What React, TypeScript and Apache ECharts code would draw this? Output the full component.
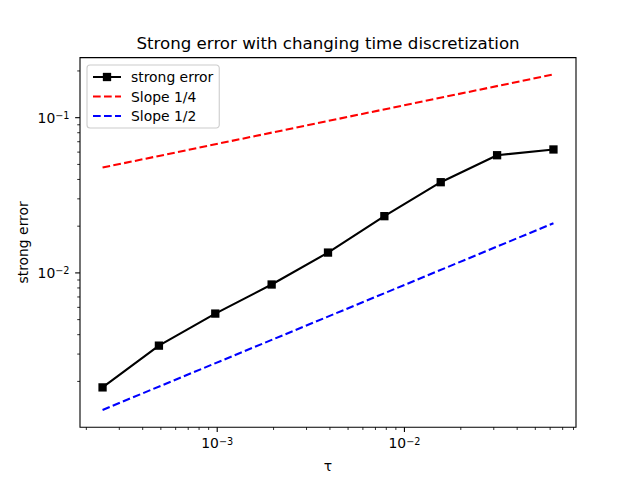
import React, { useEffect, useRef } from "react";
import * as echarts from "echarts";

// ---- data ----
const tau = [0.000244140625, 0.00048828125, 0.0009765625, 0.001953125, 0.00390625, 0.0078125, 0.015625, 0.03125, 0.0625];
const strongError = [0.00183, 0.0034, 0.00547, 0.00842, 0.01352, 0.0232, 0.0384, 0.0573, 0.0624];
const slopeQuarterEnds = [0.0477, 0.19];
const slopeHalfEnds = [0.00131, 0.0209];
const seriesNames = ["strong error", "Slope 1/4", "Slope 1/2"];
const titleText = "Strong error with changing time discretization";
const xLabel = "τ";
const yLabel = "strong error";

const xMajorTicks = [1e-3, 1e-2];
const xMinorTicks = [2e-4, 3e-4, 4e-4, 5e-4, 6e-4, 7e-4, 8e-4, 9e-4, 2e-3, 3e-3, 4e-3, 5e-3, 6e-3, 7e-3, 8e-3, 9e-3, 2e-2, 3e-2, 4e-2, 5e-2, 6e-2, 7e-2, 8e-2];
const yMajorTicks = [1e-2, 1e-1];
const yMinorTicks = [2e-3, 3e-3, 4e-3, 5e-3, 6e-3, 7e-3, 8e-3, 9e-3, 2e-2, 3e-2, 4e-2, 5e-2, 6e-2, 7e-2, 8e-2, 9e-2, 2e-1];

const X_MIN = 1.85e-4;
const X_MAX = 0.08247;
const Y_MIN = 1.014e-3;
const Y_MAX = 0.2438;

const FONT = "DejaVu Sans";
const LW = 2.08;
const DASH = [7.7, 3.3];

function supLabel(value: number) {
  const e = Math.round(Math.log10(value));
  return `{b|10}{s|${e < 0 ? "\u2212" : ""}${Math.abs(e)}}`;
}

const labelRich = {
  b: { fontFamily: FONT, fontSize: 13.9, color: "#000" },
  s: { fontFamily: FONT, fontSize: 9.7, color: "#000", verticalAlign: "top" },
};

function xTickSeries(values: number[], len: number, width: number) {
  return {
    type: "custom",
    silent: true,
    clip: false,
    z: 10,
    data: values.map((v) => [v, Y_MIN]),
    renderItem: (params: any, api: any) => {
      const cs = params.coordSys;
      const x = api.coord([api.value(0), Y_MIN])[0];
      const yb = cs.y + cs.height;
      return {
        type: "line",
        shape: { x1: x, y1: yb, x2: x, y2: yb + len },
        style: { stroke: "#000", lineWidth: width },
      };
    },
  };
}

function yTickSeries(values: number[], len: number, width: number) {
  return {
    type: "custom",
    silent: true,
    clip: false,
    z: 10,
    data: values.map((v) => [X_MIN, v]),
    renderItem: (params: any, api: any) => {
      const cs = params.coordSys;
      const y = api.coord([X_MIN, api.value(1)])[1];
      const xl = cs.x;
      return {
        type: "line",
        shape: { x1: xl - len, y1: y, x2: xl, y2: y },
        style: { stroke: "#000", lineWidth: width },
      };
    },
  };
}

export default function App() {
  const ref = useRef<HTMLDivElement>(null);
  useEffect(() => {
    if (!ref.current) return;
    const chart = echarts.init(ref.current, undefined, { renderer: "svg" });
    const option: any = {
      animation: false,
      backgroundColor: "#fff",
      textStyle: { fontFamily: FONT },
      grid: {
        left: 80,
        right: 64,
        top: 57.6,
        bottom: 52.8,
        show: true,
        borderColor: "#000",
        borderWidth: 1.1,
        backgroundColor: "transparent",
      },
      xAxis: {
        type: "log",
        logBase: 10,
        min: X_MIN,
        max: X_MAX,
        axisLine: { show: false },
        axisTick: { show: false },
        splitLine: { show: false },
        axisLabel: {
          show: true,
          margin: 9,
          showMinLabel: false,
          showMaxLabel: false,
          formatter: supLabel,
          rich: labelRich,
        },
      },
      yAxis: {
        type: "log",
        logBase: 10,
        min: Y_MIN,
        max: Y_MAX,
        axisLine: { show: false },
        axisTick: { show: false },
        splitLine: { show: false },
        axisLabel: {
          show: true,
          margin: 10.5,
          showMinLabel: false,
          showMaxLabel: false,
          formatter: supLabel,
          rich: labelRich,
        },
      },
      legend: {
        orient: "vertical",
        left: 87,
        top: 65,
        data: [
          { name: seriesNames[0] },
          { name: seriesNames[1], itemStyle: { opacity: 0 } },
          { name: seriesNames[2], itemStyle: { opacity: 0 } },
        ],
        itemWidth: 28,
        itemHeight: 10.4,
        itemGap: 5.5,
        padding: [5, 6, 5, 5],
        borderColor: "#cccccc",
        borderWidth: 1.1,
        borderRadius: 3,
        backgroundColor: "rgba(255,255,255,0.8)",
        textStyle: { fontFamily: FONT, fontSize: 13.9, color: "#000", padding: [0, 0, 0, 5] },
      },
      graphic: [
        {
          type: "text",
          x: 328,
          y: 43.7,
          style: { text: titleText, fontFamily: FONT, fontSize: 16.67, fill: "#000", align: "center", verticalAlign: "middle" },
        },
        {
          type: "text",
          x: 328,
          y: 466,
          style: { text: xLabel, fontFamily: FONT, fontSize: 13.9, fill: "#000", align: "center", verticalAlign: "middle" },
        },
        {
          type: "text",
          x: 23,
          y: 242.4,
          rotation: Math.PI / 2,
          style: { text: yLabel, fontFamily: FONT, fontSize: 13.9, fill: "#000", align: "center", verticalAlign: "middle" },
        },
      ],
      series: [
        {
          name: seriesNames[0],
          type: "line",
          data: tau.map((t, i) => [t, strongError[i]]),
          symbol: "rect",
          symbolSize: 8.3,
          lineStyle: { color: "#000", width: LW },
          itemStyle: { color: "#000" },
          z: 5,
        },
        {
          name: seriesNames[1],
          type: "line",
          data: [
            [tau[0], slopeQuarterEnds[0]],
            [tau[tau.length - 1], slopeQuarterEnds[1]],
          ],
          symbol: "none",
          lineStyle: { color: "#ff0000", width: LW, type: DASH },
          itemStyle: { color: "#ff0000" },
          z: 4,
        },
        {
          name: seriesNames[2],
          type: "line",
          data: [
            [tau[0], slopeHalfEnds[0]],
            [tau[tau.length - 1], slopeHalfEnds[1]],
          ],
          symbol: "none",
          lineStyle: { color: "#0000ff", width: LW, type: DASH },
          itemStyle: { color: "#0000ff" },
          z: 4,
        },
        xTickSeries(xMajorTicks, 4.86, 1.1),
        xTickSeries(xMinorTicks, 2.78, 0.83),
        yTickSeries(yMajorTicks, 4.86, 1.1),
        yTickSeries(yMinorTicks, 2.78, 0.83),
      ],
    };
    chart.setOption(option);
    return () => chart.dispose();
  }, []);
  return (
    <div
      ref={ref}
      style={{ position: "fixed", left: 0, top: 0, width: 640, height: 480, background: "#fff" }}
    />
  );
}
